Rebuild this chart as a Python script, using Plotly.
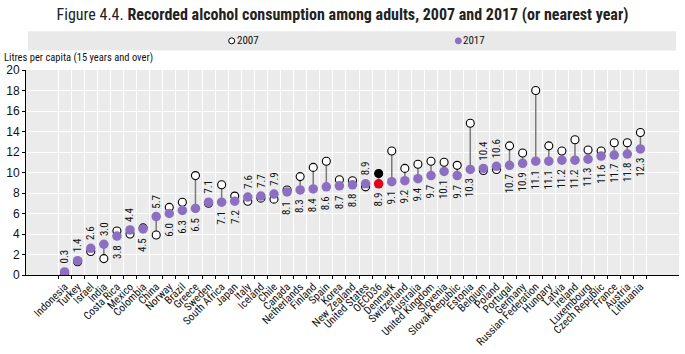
import plotly.graph_objects as go

countries = ["Indonesia", "Turkey", "Israel", "India", "Costa Rica", "Mexico", "Colombia", "China",
             "Norway", "Brazil", "Greece", "Sweden", "South Africa", "Japan", "Italy", "Iceland",
             "Chile", "Canada", "Netherlands", "Finland", "Spain", "Korea", "New Zealand",
             "United States", "OECD36", "Denmark", "Switzerland", "Australia", "United Kingdom",
             "Slovenia", "Slovak Republic", "Estonia", "Belgium", "Poland", "Portugal", "Germany",
             "Russian Federation", "Hungary", "Latvia", "Ireland", "Luxembourg", "Czech Republic",
             "France", "Austria", "Lithuania"]

v2017 = [0.3, 1.4, 2.6, 3.0, 3.8, 4.4, 4.5, 5.7, 6.0, 6.3, 6.5, 7.1, 7.1, 7.2, 7.6, 7.7,
         7.9, 8.1, 8.3, 8.4, 8.6, 8.7, 8.8, 8.9, 8.9, 9.1, 9.2, 9.4, 9.7, 10.1, 9.7, 10.3,
         10.4, 10.6, 10.7, 10.9, 11.1, 11.1, 11.2, 11.2, 11.3, 11.6, 11.7, 11.8, 12.3]

v2007 = [0.2, 1.3, 2.3, 1.6, 4.3, 4.0, 4.6, 3.9, 6.6, 7.1, 9.7, 7.0, 8.8, 7.7, 7.2, 7.5,
         7.4, 8.3, 9.6, 10.5, 11.1, 9.3, 9.2, 8.6, 9.9, 12.1, 10.4, 10.8, 11.1, 11.0, 10.7, 14.8,
         10.2, 10.3, 12.6, 11.9, 18.0, 12.6, 12.1, 13.2, 12.2, 12.1, 12.9, 12.9, 13.9]

highlight = "OECD36"
PURPLE = "#8c6fc0"
NARROW = "Liberation Sans Narrow, Arial Narrow, Roboto Condensed, Arial, sans-serif"

fig = go.Figure()

# connecting lines
lx, ly = [], []
for c, a, b in zip(countries, v2007, v2017):
    lx += [c, c, None]
    ly += [a, b, None]
fig.add_trace(go.Scatter(x=lx, y=ly, mode="lines", line=dict(color="#7a7a7a", width=1.5),
                         hoverinfo="skip", showlegend=False))

fig.add_trace(go.Scatter(
    x=countries, y=v2007, mode="markers", name="2007", showlegend=False,
    marker=dict(size=8, color=["black" if c == highlight else "white" for c in countries],
                line=dict(color="black", width=1.1))))

fig.add_trace(go.Scatter(
    x=countries, y=v2017, mode="markers", name="2017", showlegend=False,
    marker=dict(size=9.5, color=["#e3001b" if c == highlight else PURPLE for c in countries],
                line=dict(width=0))))

annotations = []
for c, a, b in zip(countries, v2007, v2017):
    above = a < b
    annotations.append(dict(
        x=c, y=b, xref="x", yref="y", text=f"{b:.1f}", showarrow=False, textangle=-90,
        yanchor="bottom" if above else "top", yshift=6 if above else -7,
        font=dict(family=NARROW, size=11, color="#111")))

# axis title
annotations.append(dict(x=0, y=(281 - 57) / 211, xref="paper", yref="paper",
                        text="Litres per capita (15 years and over)",
                        showarrow=False, xanchor="left", yanchor="middle", xshift=-24,
                        font=dict(family=NARROW, size=10.5, color="#111")))

# legend entries
legend_items = [("2007", "white", 231), ("2017", PURPLE, 458)]
shapes = [dict(type="rect", xref="paper", yref="paper", x0=(27 - 25) / 654, x1=(676 - 25) / 654,
               y0=(281 - 50) / 211, y1=(281 - 30) / 211, fillcolor="#e9e9e9", line=dict(width=0),
               layer="below")]
for name, col, px in legend_items:
    xp = (px - 25) / 654
    yp = (281 - 40) / 211
    shapes.append(dict(type="circle", xref="paper", yref="paper", xsizemode="pixel", ysizemode="pixel",
                       xanchor=xp, yanchor=yp, x0=-3, x1=3, y0=-3, y1=3, fillcolor=col,
                       line=dict(color="black" if col == "white" else col, width=1)))
    annotations.append(dict(x=xp, y=yp, xref="paper", yref="paper", text=name, showarrow=False,
                            xanchor="left", yanchor="middle", xshift=3,
                            font=dict(family=NARROW, size=11, color="#111")))

fig.update_layout(
    width=685, height=354,
    margin=dict(l=25, r=6, t=70, b=73),
    paper_bgcolor="white", plot_bgcolor="#ebebeb",
    title=dict(text="Figure 4.4. <b>Recorded alcohol consumption among adults, 2007 and 2017 (or nearest year)</b>",
               x=0.5, xref="container", xanchor="center", y=1 - 14 / 354, yref="container", yanchor="middle",
               font=dict(family=NARROW, size=16, color="#222")),
    annotations=annotations, shapes=shapes,
    showlegend=False,
)
fig.update_xaxes(type="category", tickangle=-45, tickson="boundaries", showgrid=True, gridcolor="white",
                 gridwidth=1.2, showline=True, linecolor="black", linewidth=1, ticks="outside", ticklen=3,
                 tickcolor="black", tickfont=dict(family=NARROW, size=11, color="#111"), fixedrange=True)
fig.update_yaxes(range=[0, 20], dtick=2, showgrid=True, gridcolor="white", gridwidth=1.2, zeroline=False,
                 showline=True, linecolor="black", linewidth=1, ticks="outside", ticklen=3, tickcolor="black",
                 tickfont=dict(family="Arial, Liberation Sans, sans-serif", size=12, color="#111"))

fig.write_html("out.html")
